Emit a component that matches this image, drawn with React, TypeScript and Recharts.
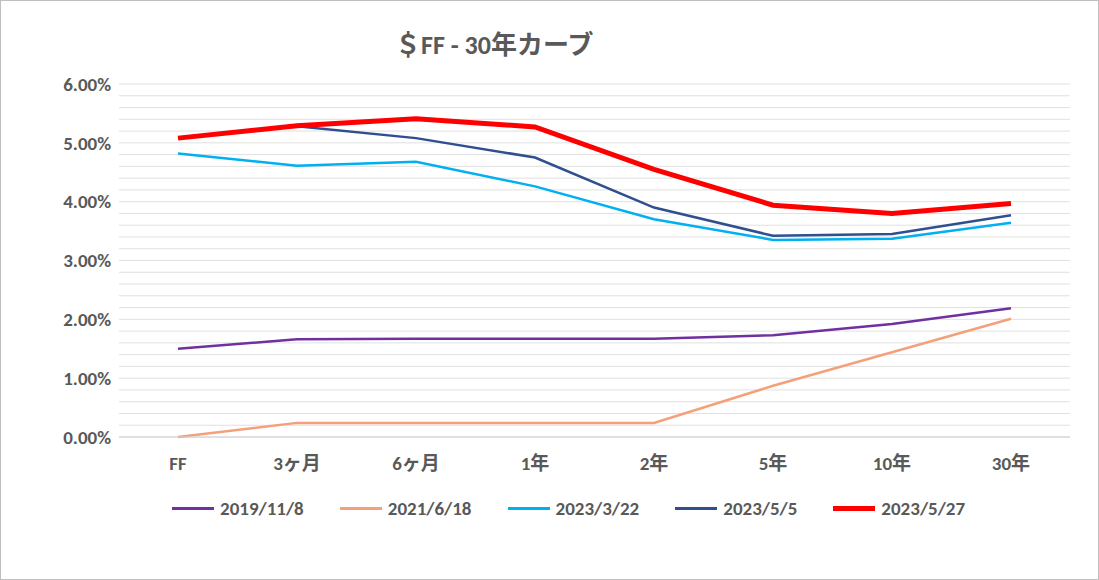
import { LineChart, Line, XAxis, YAxis, CartesianGrid } from 'recharts';

const categories = ['FF', '3ヶ月', '6ヶ月', '1年', '2年', '5年', '10年', '30年'];
const s2019 = [1.5, 1.66, 1.67, 1.67, 1.67, 1.73, 1.92, 2.19];
const s2021 = [0.0, 0.24, 0.24, 0.24, 0.24, 0.87, 1.44, 2.01];
const s2303 = [4.82, 4.61, 4.68, 4.26, 3.7, 3.35, 3.37, 3.64];
const s2305 = [5.08, 5.28, 5.08, 4.75, 3.9, 3.42, 3.45, 3.77];
const s2327 = [5.08, 5.29, 5.41, 5.27, 4.55, 3.94, 3.8, 3.97];
const yTicks = Array.from({ length: 31 }, (_, i) => +(i * 0.2).toFixed(1));

const series = [
  { key: '2019/11/8', color: '#7030a0', width: 2.5, values: s2019 },
  { key: '2021/6/18', color: '#f4a07a', width: 2.5, values: s2021 },
  { key: '2023/3/22', color: '#00b0f0', width: 2.5, values: s2303 },
  { key: '2023/5/5', color: '#2f4f8f', width: 2.5, values: s2305 },
  { key: '2023/5/27', color: '#ff0000', width: 5, values: s2327 },
];

const data = categories.map((name, i) => {
  const row: Record<string, string | number> = { name };
  series.forEach((s) => (row[s.key] = s.values[i]));
  return row;
});

const font = "Calibri, 'Liberation Sans', 'Noto Sans CJK JP', sans-serif";
const labelStyle = { fill: '#595959', fontSize: 19, fontWeight: 'bold' as const };

export default function App() {
  return (
    <div style={{ position: 'absolute', left: 0, top: 0, width: 1099, height: 580, background: '#fff', fontFamily: font }}>
      <div style={{ position: 'absolute', left: 0, top: 0, width: 1097, height: 578, border: '1px solid #bfbfbf' }} />
      <div style={{ position: 'absolute', left: 395, top: 24, fontSize: 26, fontWeight: 'bold', color: '#595959' }}>＄FF - 30年カーブ</div>
      <LineChart width={1099} height={580} data={data} margin={{ top: 84, right: 29, bottom: 83, left: 0 }}>
        <CartesianGrid vertical={false} stroke="#e0e0e0" />
        <XAxis dataKey="name" padding={{ left: 59, right: 59 }} axisLine={{ stroke: '#d0d0d0' }} tickLine={false} tick={labelStyle} dy={12} height={60} />
        <YAxis domain={[0, 6]} ticks={yTicks} interval={0} width={119} axisLine={false} tickLine={false}
          tickFormatter={(v: number) => (Math.abs(v - Math.round(v)) < 1e-6 ? v.toFixed(2) + '%' : '')}
          tick={labelStyle} />
        {series.map((s) => (
          <Line key={s.key} dataKey={s.key} stroke={s.color} strokeWidth={s.width} dot={false} isAnimationActive={false} />
        ))}
      </LineChart>
      <div style={{ position: 'absolute', left: 172, top: 497, display: 'flex', fontSize: 19, fontWeight: 'bold', color: '#595959' }}>
        {series.map((s) => (
          <div key={s.key} style={{ display: 'flex', alignItems: 'center', marginRight: 36 }}>
            <div style={{ width: 42, height: s.width, background: s.color, marginRight: 6 }} />
            <span>{s.key}</span>
          </div>
        ))}
      </div>
    </div>
  );
}
